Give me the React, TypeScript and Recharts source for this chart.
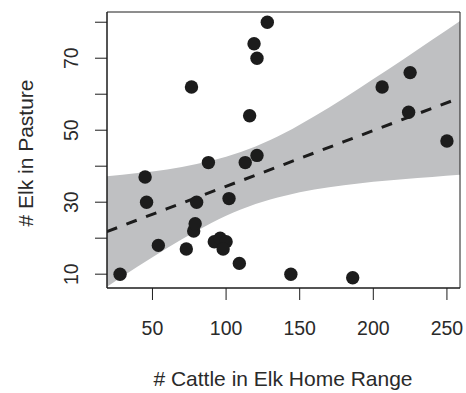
import React from 'react';
import { ComposedChart, Area, Line, Scatter, XAxis, YAxis, ReferenceArea } from 'recharts';

// Observed data: cattle in elk home range (x) vs elk in pasture (y)
const cattle = [28, 45, 46, 54, 73, 76.5, 78, 79, 80, 88, 92, 96, 100, 98, 102, 109, 113, 116, 119, 121, 121, 128, 144, 186, 206, 225, 224, 250];
const elk = [10, 37, 30, 18, 17, 62, 22, 24, 30, 41, 19, 20, 19, 17, 31, 13, 41, 54, 74, 70, 43, 80, 10, 9, 62, 66, 55, 47];

// Fitted line and confidence band
const bandX = [19, 40, 60, 80, 100, 120, 140, 160, 180, 200, 220, 240, 259];
const bandLow = [6.5, 12.1, 17.3, 22.0, 26.2, 29.5, 31.8, 33.5, 34.7, 35.7, 36.4, 37.0, 37.6];
const bandHigh = [37.2, 38.1, 39.1, 40.6, 42.6, 45.5, 49.3, 53.9, 58.9, 64.2, 69.6, 75.1, 80.4];
const fitY = [21.8, 25.1, 28.2, 31.3, 34.4, 37.5, 40.6, 43.7, 46.8, 49.9, 53.0, 56.1, 59.0];

const xTicks = [50, 100, 150, 200, 250];
const yTicks = [10, 20, 30, 40, 50, 60, 70, 80];
const yLabels = [10, 30, 50, 70];
const xDomain = [19.12, 258.88];
const yDomain = [6.16, 82.84];

const xTitle = '# Cattle in Elk Home Range';
const yTitle = '# Elk in Pasture';

const points = cattle.map((x, i) => ({ x, y: elk[i] }));
const band = bandX.map((x, i) => ({ x, range: [bandLow[i], bandHigh[i]], fit: fitY[i] }));

const FONT = '"Liberation Sans", Arial, Helvetica, sans-serif';
const TEXT = '#2a2a2a';
const INK = '#1c1c1c';

const XTick = (props: any) => {
  const { x, y, payload } = props;
  return (
    <text x={x} y={y + 35} textAnchor="middle" fontSize={19.5} fill={TEXT} fontFamily={FONT}>
      {payload.value}
    </text>
  );
};

const YTick = (props: any) => {
  const { x, y, payload } = props;
  if (!yLabels.includes(payload.value)) return null;
  const tx = x - 17;
  return (
    <text x={tx} y={y} transform={`rotate(-90, ${tx}, ${y})`} textAnchor="middle" fontSize={19.5} fill={TEXT} fontFamily={FONT}>
      {payload.value}
    </text>
  );
};

const Dot = (props: any) => <circle cx={props.cx} cy={props.cy} r={6.7} fill={INK} />;

export default function App() {
  return (
    <div style={{ position: 'absolute', left: 0, top: 0, width: 466, height: 393 }}>
      <ComposedChart width={466} height={393} data={band} margin={{ top: 12, right: 6, bottom: 0, left: 0 }}>
        <XAxis
          dataKey="x"
          type="number"
          domain={xDomain}
          allowDataOverflow
          ticks={xTicks}
          height={105}
          tickSize={12}
          tickMargin={0}
          tick={<XTick />}
          axisLine={{ stroke: INK, strokeWidth: 1 }}
          tickLine={{ stroke: INK, strokeWidth: 1 }}
        />
        <YAxis
          type="number"
          domain={yDomain}
          allowDataOverflow
          ticks={yTicks}
          width={107}
          tickSize={12}
          tickMargin={0}
          tick={<YTick />}
          axisLine={{ stroke: INK, strokeWidth: 1 }}
          tickLine={{ stroke: INK, strokeWidth: 1 }}
        />
        <Area dataKey="range" type="monotone" stroke="none" fill="#bfc0c2" fillOpacity={1} isAnimationActive={false} />
        <Line dataKey="fit" type="linear" stroke={INK} strokeWidth={3} strokeDasharray="11 10" dot={false} isAnimationActive={false} />
        <Scatter data={points} dataKey="y" shape={<Dot />} isAnimationActive={false} />
        <ReferenceArea x1={xDomain[0]} x2={xDomain[1]} y1={yDomain[0]} y2={yDomain[1]} fill="none" stroke={INK} strokeWidth={1} ifOverflow="visible" />
      </ComposedChart>
      <svg width={466} height={393} style={{ position: 'absolute', left: 0, top: 0, pointerEvents: 'none' }}>
        <text x={283} y={386} textAnchor="middle" fontSize={21} fill={TEXT} fontFamily={FONT}>{xTitle}</text>
        <text x={33} y={153} transform="rotate(-90, 33, 153)" textAnchor="middle" fontSize={21} fill={TEXT} fontFamily={FONT}>{yTitle}</text>
      </svg>
    </div>
  );
}
